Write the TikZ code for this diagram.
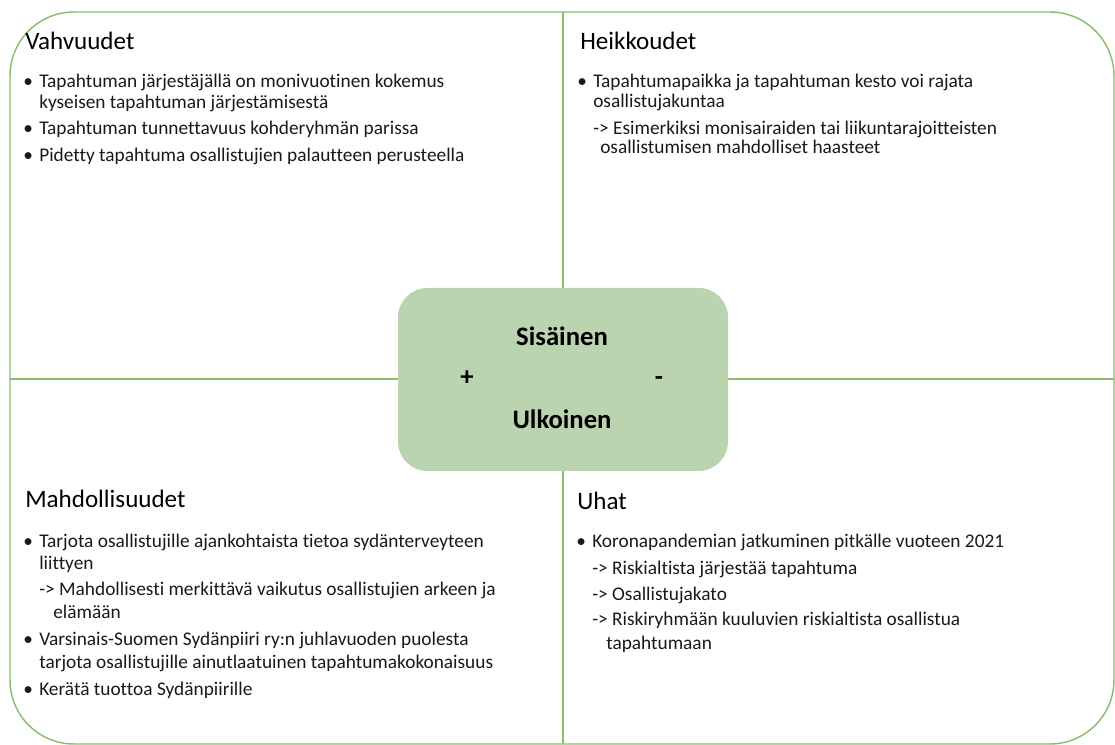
\documentclass[tikz,border=0pt]{standalone}
\usepackage{fontspec}
\setmainfont{Carlito}[Ligatures={NoCommon}]
\usepackage{tikz}
\usetikzlibrary{positioning}

\definecolor{swotline}{RGB}{137,190,108}
\definecolor{swotfill}{RGB}{187,212,176}
\tikzset{
  heading/.style={anchor=base west, inner sep=0pt, font=\fontsize{18.8}{22}\selectfont},
  itemline/.style={anchor=base west, inner sep=0pt, text=black!90, font=\fontsize{14.5}{17}\selectfont},
  corelabel/.style={anchor=base, inner sep=0pt, font=\fontsize{20}{24}\selectfont\bfseries},
}
\newcommand{\bul}{\llap{\textbullet\hspace{4.7pt}}}

\begin{document}
\begin{tikzpicture}[x=0.75pt, y=-0.75pt]
    \useasboundingbox (0,0) rectangle (1115,745);

    % frame and the two dividers
    \coordinate (nw) at (10,12);
    \coordinate (se) at (1114,744);
    \coordinate (top) at (563,12);
    \coordinate (bot) at (563,744);
    \coordinate (lft) at (10,379);
    \coordinate (rgt) at (1114,379);
    \draw[swotline, line width=1.1pt, rounded corners=48pt] (nw) rectangle (se);
    \draw[swotline, line width=1.1pt] (top) -- (bot);
    \draw[swotline, line width=1.1pt] (lft) -- (rgt);

    % centre box
    \node[fill=swotfill, rounded corners=22pt, minimum width=247.5pt, minimum height=137.25pt] (core) at (563,379.5) {};
    \node[corelabel] (sis) at (562,346) {Sisäinen};
    \node[corelabel] (ulk) at (562,429) {Ulkoinen};
    \node[corelabel] (plus) at (467,386) {+};
    \node[corelabel] (minus) at (659,386) {-};

    % headings
    \node[heading] (vahv) at (25,50) {Vahvuudet};
    \node[heading] (heik) at (580,50) {Heikkoudet};
    \node[heading] (mahd) at (25,508) {Mahdollisuudet};
    \node[heading] (uhat) at (577,509) {Uhat};

    % Vahvuudet
    \foreach \y/\x/\t [count=\i] in {
        88/39/{\bul Tapahtuman järjestäjällä on monivuotinen kokemus},
        109/39/{kyseisen tapahtuman järjestämisestä},
        135/39/{\bul Tapahtuman tunnettavuus kohderyhmän parissa},
        162/39/{\bul Pidetty tapahtuma osallistujien palautteen perusteella}} {
        \node[itemline] (s\i) at (\x,\y) {\t};
    }

    % Heikkoudet
    \foreach \y/\x/\t [count=\i] in {
        88/593/{\bul Tapahtumapaikka ja tapahtuman kesto voi rajata},
        108/593/{osallistujakuntaa},
        135/593/{-> Esimerkiksi monisairaiden tai liikuntarajoitteisten},
        154/600/{osallistumisen mahdolliset haasteet}} {
        \node[itemline] (w\i) at (\x,\y) {\t};
    }

    % Mahdollisuudet
    \foreach \y/\x/\t [count=\i] in {
        547/39/{\bul Tarjota osallistujille ajankohtaista tietoa sydänterveyteen},
        569/39/{liittyen},
        595/39/{-> Mahdollisesti merkittävä vaikutus osallistujien arkeen ja},
        618/53/{elämään},
        645/39/{\bul Varsinais-Suomen Sydänpiiri ry:n juhlavuoden puolesta},
        668/39/{tarjota osallistujille ainutlaatuinen tapahtumakokonaisuus},
        695/39/{\bul Kerätä tuottoa Sydänpiirille}} {
        \node[itemline] (o\i) at (\x,\y) {\t};
    }

    % Uhat
    \foreach \y/\x/\t [count=\i] in {
        547/592/{\bul Koronapandemian jatkuminen pitkälle vuoteen 2021},
        574/592/{-> Riskialtista järjestää tapahtuma},
        600/592/{-> Osallistujakato},
        625/592/{-> Riskiryhmään kuuluvien riskialtista osallistua},
        649/606/{tapahtumaan}} {
        \node[itemline] (t\i) at (\x,\y) {\t};
    }
\end{tikzpicture}
\end{document}
